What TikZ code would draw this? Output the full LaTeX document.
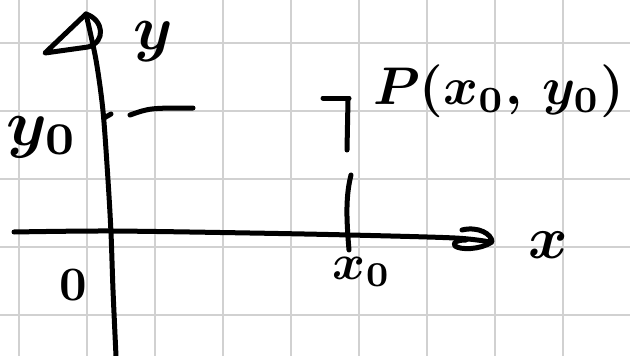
\documentclass[tikz,border=0pt]{standalone}
\usepackage{amsmath}
\begin{document}
\begin{tikzpicture}[x=1pt,y=-1pt,
  gridline/.style={line width=2pt, draw=black!18},
  ink/.style={line width=5pt, line cap=round, line join=round, draw=black},
  lbl/.style={inner sep=0pt, text=black, font=\boldmath}]
\useasboundingbox (0,0) rectangle (630,356);
\fill[white] (0,0) rectangle (630,356);
\foreach \gx in {19,87,...,563} \draw[gridline] (\gx,0) -- (\gx,356);
\foreach \gy in {43,111,...,315} \draw[gridline] (0,\gy) -- (630,\gy);

% y axis
\draw[ink] plot[smooth] coordinates {(86,14) (96,60) (103,111) (108,180) (111,233) (113,290) (116,356)};
\draw[ink] (86,14) -- (45,53) -- (88,47) .. controls (106,42) and (104,20) .. (86,14);
% y0 tick
\draw[ink] (104,118) -- (111,114);
\draw[ink] (130,115) .. controls (150,108) .. (193,108);
% x axis
\draw[ink] plot[smooth] coordinates {(14,232) (110,231) (250,233) (350,235) (455,238) (490,242)};
\draw[ink] (462,230) .. controls (478,226) and (492,234) .. (492,242) .. controls (480,250) and (460,250) .. (455,246) .. controls (452,242) and (458,240) .. (466,240);
% dashed vertical
\draw[ink] (323,98) -- (349,98);
\draw[ink] (348,100) -- (347,150);
\draw[ink] (351,175) .. controls (346,195) and (346,215) .. (349,250);

% labels
\node[lbl, scale=6.3] (ylab) at (153,42) {$y$};
\node[lbl, scale=6.5] (y0lab) at (42,137) {$y_0$};
\node[lbl, scale=4.8] (olab) at (73,285) {$0$};
\node[lbl, scale=5] (x0lab) at (362,272) {$x_0$};
\node[lbl, scale=6] (xlab) at (548,245) {$x$};
\node[lbl, scale=5.3, anchor=west] (plab) at (372,91) {$P(x_0,\,y_0)$};
\end{tikzpicture}
\end{document}
